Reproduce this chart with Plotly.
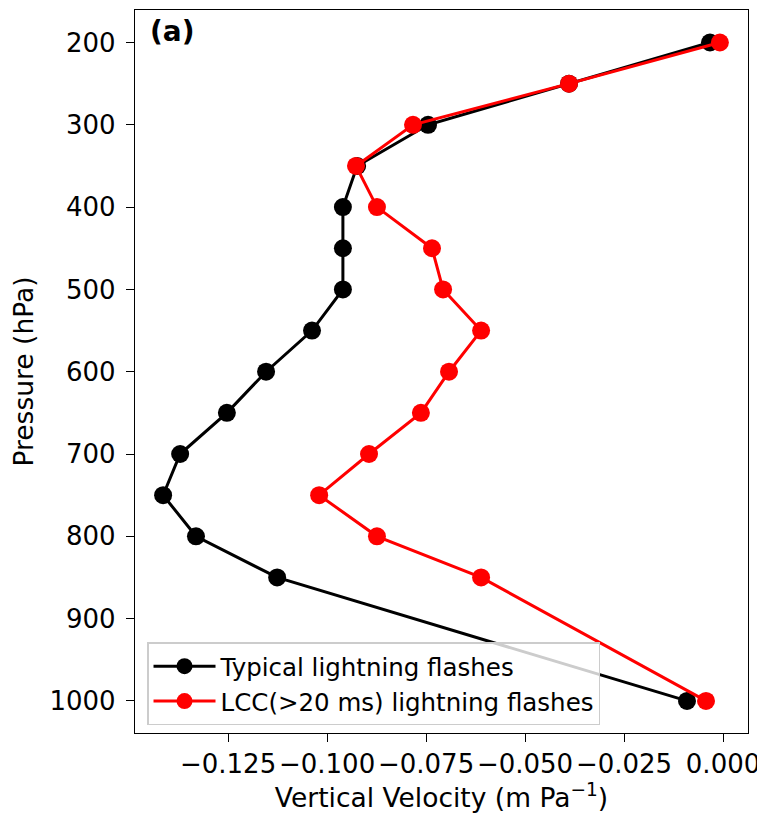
import plotly.graph_objects as go

pressure = [200, 250, 300, 350, 400, 450, 500, 550, 600, 650, 700, 750, 800, 850, 1000]
typical = [-0.0033, -0.0389, -0.0745, -0.0924, -0.0960, -0.0960, -0.0960, -0.1038,
           -0.1154, -0.1253, -0.1371, -0.1414, -0.1331, -0.1126, -0.0091]
lcc = [-0.0008, -0.0389, -0.0783, -0.0927, -0.0874, -0.0735, -0.0707, -0.0611,
       -0.0692, -0.0763, -0.0894, -0.1020, -0.0874, -0.0611, -0.0043]

xticks = [-0.125, -0.100, -0.075, -0.050, -0.025, 0.000]
xticklabels = ["\u22120.125", "\u22120.100", "\u22120.075", "\u22120.050", "\u22120.025", "0.000"]
yticks = [200, 300, 400, 500, 600, 700, 800, 900, 1000]

FONT = "DejaVu Sans"

fig = go.Figure()
fig.add_trace(go.Scatter(x=typical, y=pressure, mode="lines+markers",
                         name="Typical lightning flashes",
                         line=dict(color="black", width=3),
                         marker=dict(color="black", size=18)))
fig.add_trace(go.Scatter(x=lcc, y=pressure, mode="lines+markers",
                         name="LCC(>20 ms) lightning flashes",
                         line=dict(color="red", width=3),
                         marker=dict(color="red", size=18)))

# page body has an 8px margin, so the figure is shrunk by 8px in each direction
fig.update_layout(
    width=757, height=811,
    margin=dict(l=127, r=17, t=2, b=86, pad=0),
    plot_bgcolor="white", paper_bgcolor="white",
    font=dict(family=FONT, color="black", size=25),
    showlegend=True,
    legend=dict(x=0.0196, y=0.1255, xanchor="left", yanchor="top",
                bgcolor="rgba(255,255,255,0.8)", bordercolor="#cccccc", borderwidth=1.5,
                font=dict(family=FONT, size=24.5, color="black"),
                itemwidth=62, tracegroupgap=0),
    annotations=[dict(text="<b>(a)</b>", x=0.022, y=0.996, xref="paper", yref="paper",
                      xanchor="left", yanchor="top", showarrow=False,
                      font=dict(family=FONT, size=28, color="black"))],
)
fig.update_xaxes(range=[-0.1485, 0.0063], tickvals=xticks, ticktext=xticklabels,
                 showgrid=False, zeroline=False, showline=True, mirror=True,
                 linecolor="black", linewidth=1.3, ticks="outside", ticklen=8,
                 tickwidth=1.3, tickcolor="black", tickfont=dict(size=26),
                 title=dict(text="Vertical Velocity (m Pa<sup>\u22121</sup>)",
                            font=dict(size=26.5), standoff=10))
fig.update_yaxes(range=[1039, 160.5], tickvals=yticks,
                 showgrid=False, zeroline=False, showline=True, mirror=True,
                 linecolor="black", linewidth=1.3, ticks="outside", ticklen=8,
                 tickwidth=1.3, tickcolor="black", tickfont=dict(size=26),
                 ticklabelstandoff=5,
                 title=dict(text="Pressure (hPa)", font=dict(size=26.5), standoff=8))

fig.write_html("out.html")
